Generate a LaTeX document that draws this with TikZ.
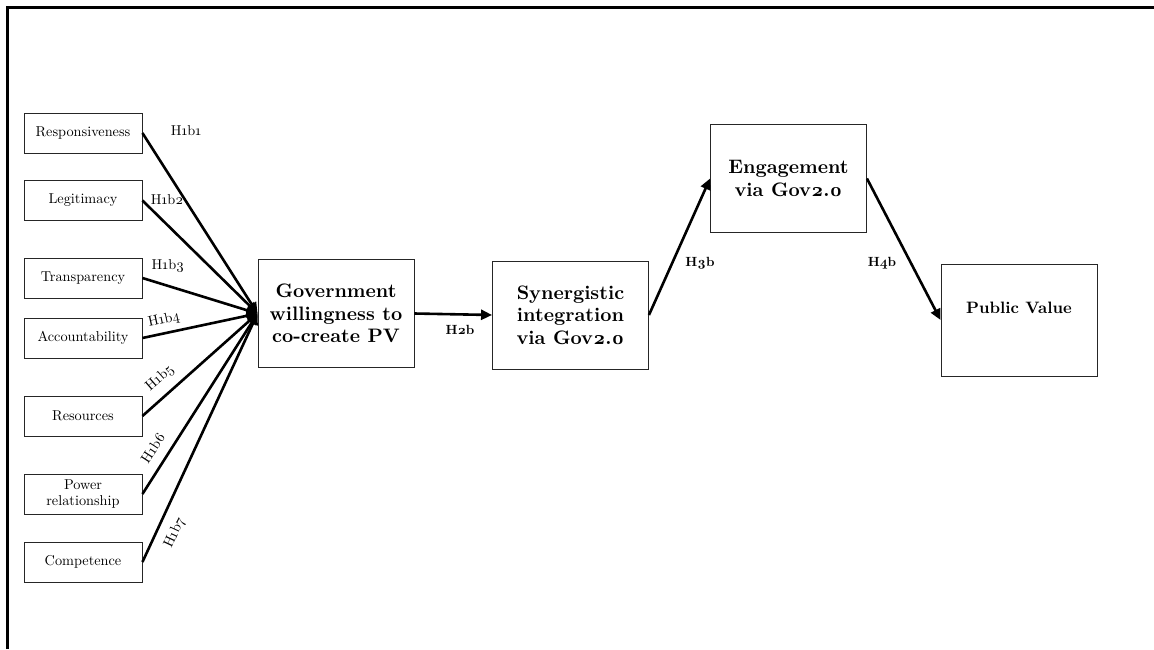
\documentclass[tikz,border=0pt]{standalone}
\usepackage{fontspec}
\setmainfont{lmroman10-regular.otf}[
  BoldFont=lmroman10-bold.otf,
  ItalicFont=lmroman10-italic.otf,
  BoldItalicFont=lmroman10-bolditalic.otf,
  Numbers=OldStyle]
\usetikzlibrary{arrows.meta}
\begin{document}
\begin{tikzpicture}[x=1pt,y=-1pt,
  factor/.style={draw=black!85, line width=0.9pt, minimum width=118pt, minimum height=40pt,
    align=center, inner sep=2pt, font=\fontsize{14.3}{17.5}\selectfont},
  construct/.style={draw=black!85, line width=0.9pt, minimum width=156pt, minimum height=108pt,
    align=center, inner sep=2pt, font=\bfseries\fontsize{19.5}{22.5}\selectfont},
  hyp/.style={inner sep=1pt, font=\fontsize{14.3}{16}\selectfont},
  hypbold/.style={inner sep=1pt, font=\bfseries\fontsize{13.3}{15}\selectfont},
  link/.style={line width=2.6pt, -{Triangle[length=11pt,width=10pt]}}]
\useasboundingbox (0,0) rectangle (1154,649);

% open frame along the top and left side
\draw[line width=3pt] (7.5,649) -- (7.5,7.5) -- (1154,7.5);

% antecedent factors
\node[factor] (resp)   at (83,133)   {Responsiveness};
\node[factor] (legit)  at (83,200.5) {Legitimacy};
\node[factor] (transp) at (83,278)   {Transparency};
\node[factor] (acct)   at (83,338)   {Accountability};
\node[factor] (res)    at (83,416)   {Resources};
\node[factor] (power)  at (83,494)   {Power\\[-1pt]relationship};
\node[factor] (comp)   at (83,562)   {Competence};

% main constructs
\node[construct] (gov) at (336,313.5) {Government\\willingness to\\co-create PV};
\node[construct] (syn) at (570.5,315) {Synergistic\\integration\\via Gov2.0};
\node[construct] (eng) at (788.5,178.5) {Engagement\\via Gov2.0};
\node[construct, minimum height=112pt, text depth=24pt, font=\bfseries\fontsize{16.5}{20}\selectfont]
  (pv) at (1019,320) {Public Value};

% hypothesised paths into government willingness
\foreach \f in {resp,legit,transp,acct,res,power,comp}
  \draw[link] (\f.east) -- (gov.west);

\node[hyp] (h1) at (186,131) {H1b1};
\node[hyp] (h2) at (167,200) {H1b2};
\node[hyp] (h3) at (168,266) {H1b3};
\node[hyp, rotate=12] (h4) at (164,320) {H1b4};
\node[hyp, rotate=41] (h5) at (160,378) {H1b5};
\node[hyp, rotate=57] (h6) at (153,448) {H1b6};
\node[hyp, rotate=65] (h7) at (175,533) {H1b7};

% downstream paths
\draw[link] (gov.east) -- (syn.west);
\draw[link] (syn.east) -- (eng.west);
\draw[link] (eng.east) -- (pv.west);

\node[hypbold] (l2) at (460,330) {H2b};
\node[hypbold] (l3) at (700,263) {H3b};
\node[hypbold] (l4) at (882,263) {H4b};
\end{tikzpicture}
\end{document}
